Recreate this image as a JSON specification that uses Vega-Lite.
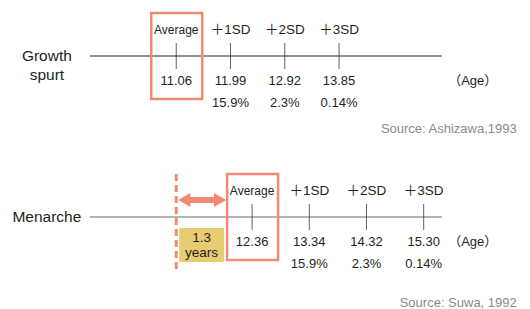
{
  "$schema": "https://vega.github.io/schema/vega-lite/v6.json",
  "width": 530,
  "height": 309,
  "autosize": {"type": "fit", "contains": "padding"},
  "padding": 0,
  "background": "white",
  "config": {
    "view": {"stroke": null},
    "text": {"font": "Liberation Sans, Noto Sans CJK JP", "color": "#231f20", "fontSize": 13}
  },
  "datasets": {
    "timelines": [
      {"timeline": "Growth spurt", "label": "Growth\nspurt", "from": 9.58, "to": 15.61, "source": "Source: Ashizawa,1993"},
      {"timeline": "Menarche", "label": "Menarche", "from": 9.58, "to": 15.61, "source": "Source: Suwa, 1992"}
    ],
    "points": [
      {"timeline": "Growth spurt", "sd": "Average", "age": 11.06, "pct": ""},
      {"timeline": "Growth spurt", "sd": "＋1SD", "age": 11.99, "pct": "15.9%"},
      {"timeline": "Growth spurt", "sd": "＋2SD", "age": 12.92, "pct": "2.3%"},
      {"timeline": "Growth spurt", "sd": "＋3SD", "age": 13.85, "pct": "0.14%"},
      {"timeline": "Menarche", "sd": "Average", "age": 12.36, "pct": ""},
      {"timeline": "Menarche", "sd": "＋1SD", "age": 13.34, "pct": "15.9%"},
      {"timeline": "Menarche", "sd": "＋2SD", "age": 14.32, "pct": "2.3%"},
      {"timeline": "Menarche", "sd": "＋3SD", "age": 15.30, "pct": "0.14%"}
    ],
    "gap": [
      {"timeline": "Menarche", "from": 11.06, "to": 12.36, "label": "1.3\nyears"}
    ]
  },
  "layer": [
    {
      "data": {"name": "timelines"},
      "mark": {"type": "rule", "strokeWidth": 1.2},
      "encoding": {
        "x": {"field": "from", "type": "quantitative", "scale": {"domain": [8.04, 17.122], "nice": false, "zero": false}, "axis": null},
        "x2": {"field": "to"},
        "y": {"field": "timeline", "type": "nominal", "scale": {"type": "point", "domain": ["Growth spurt", "Menarche"], "range": [56, 217], "padding": 0}, "axis": null},
        "color": {"field": "timeline", "type": "nominal", "scale": {"domain": ["Growth spurt", "Menarche"], "range": ["#2b2220", "#6b6b6b"]}, "legend": null}
      }
    },
    {
      "data": {"name": "points"},
      "mark": {"type": "tick", "size": 26, "thickness": 1, "color": "#231f20"},
      "encoding": {
        "x": {"field": "age", "type": "quantitative", "scale": {"domain": [8.04, 17.122], "nice": false, "zero": false}, "axis": null},
        "y": {"field": "timeline", "type": "nominal", "scale": {"type": "point", "domain": ["Growth spurt", "Menarche"], "range": [56, 217], "padding": 0}, "axis": null}
      }
    },
    {
      "data": {"name": "points"},
      "transform": [{"filter": "datum.sd === 'Average'"}],
      "mark": {"type": "rect", "fill": null, "filled": false, "stroke": "#f08a72", "strokeWidth": 2.5, "xOffset": -25, "x2Offset": 26, "yOffset": -43, "y2Offset": 43},
      "encoding": {
        "x": {"field": "age", "type": "quantitative", "scale": {"domain": [8.04, 17.122], "nice": false, "zero": false}, "axis": null},
        "x2": {"field": "age"},
        "y": {"field": "timeline", "type": "nominal", "scale": {"type": "point", "domain": ["Growth spurt", "Menarche"], "range": [56, 217], "padding": 0}, "axis": null},
        "y2": {"field": "timeline"}
      }
    },
    {
      "data": {"name": "points"},
      "transform": [{"filter": "datum.sd === 'Average'"}],
      "mark": {"type": "text", "font": "Liberation Sans Narrow, Liberation Sans", "fontSize": 12, "dy": -26},
      "encoding": {
        "x": {"field": "age", "type": "quantitative", "scale": {"domain": [8.04, 17.122], "nice": false, "zero": false}, "axis": null},
        "y": {"field": "timeline", "type": "nominal", "scale": {"type": "point", "domain": ["Growth spurt", "Menarche"], "range": [56, 217], "padding": 0}, "axis": null},
        "text": {"field": "sd"}
      }
    },
    {
      "data": {"name": "points"},
      "transform": [{"filter": "datum.sd !== 'Average'"}],
      "mark": {"type": "text", "dy": -26, "fontSize": 13.5},
      "encoding": {
        "x": {"field": "age", "type": "quantitative", "scale": {"domain": [8.04, 17.122], "nice": false, "zero": false}, "axis": null},
        "y": {"field": "timeline", "type": "nominal", "scale": {"type": "point", "domain": ["Growth spurt", "Menarche"], "range": [56, 217], "padding": 0}, "axis": null},
        "text": {"field": "sd"}
      }
    },
    {
      "data": {"name": "points"},
      "mark": {"type": "text", "dy": 25},
      "encoding": {
        "x": {"field": "age", "type": "quantitative", "scale": {"domain": [8.04, 17.122], "nice": false, "zero": false}, "axis": null},
        "y": {"field": "timeline", "type": "nominal", "scale": {"type": "point", "domain": ["Growth spurt", "Menarche"], "range": [56, 217], "padding": 0}, "axis": null},
        "text": {"field": "age", "type": "quantitative", "format": ".2f"}
      }
    },
    {
      "data": {"name": "points"},
      "mark": {"type": "text", "dy": 47},
      "encoding": {
        "x": {"field": "age", "type": "quantitative", "scale": {"domain": [8.04, 17.122], "nice": false, "zero": false}, "axis": null},
        "y": {"field": "timeline", "type": "nominal", "scale": {"type": "point", "domain": ["Growth spurt", "Menarche"], "range": [56, 217], "padding": 0}, "axis": null},
        "text": {"field": "pct"}
      }
    },
    {
      "data": {"name": "timelines"},
      "mark": {"type": "text", "dx": 31, "dy": 25},
      "encoding": {
        "x": {"field": "to", "type": "quantitative", "scale": {"domain": [8.04, 17.122], "nice": false, "zero": false}, "axis": null},
        "y": {"field": "timeline", "type": "nominal", "scale": {"type": "point", "domain": ["Growth spurt", "Menarche"], "range": [56, 217], "padding": 0}, "axis": null},
        "text": {"value": "（Age）"}
      }
    },
    {
      "data": {"name": "timelines"},
      "mark": {"type": "text", "fontSize": 15.5, "dx": -43, "dy": 0, "lineBreak": "\n", "lineHeight": 19},
      "encoding": {
        "x": {"field": "from", "type": "quantitative", "scale": {"domain": [8.04, 17.122], "nice": false, "zero": false}, "axis": null},
        "y": {"field": "timeline", "type": "nominal", "scale": {"type": "point", "domain": ["Growth spurt", "Menarche"], "range": [56, 217], "padding": 0}, "axis": null},
        "text": {"field": "label"}
      }
    },
    {
      "data": {"name": "timelines"},
      "transform": [{"filter": "datum.timeline === 'Growth spurt'"}],
      "mark": {"type": "text", "align": "right", "dx": 75, "dy": 73, "color": "#8a8a8a"},
      "encoding": {
        "x": {"field": "to", "type": "quantitative", "scale": {"domain": [8.04, 17.122], "nice": false, "zero": false}, "axis": null},
        "y": {"field": "timeline", "type": "nominal", "scale": {"type": "point", "domain": ["Growth spurt", "Menarche"], "range": [56, 217], "padding": 0}, "axis": null},
        "text": {"field": "source"}
      }
    },
    {
      "data": {"name": "timelines"},
      "transform": [{"filter": "datum.timeline === 'Menarche'"}],
      "mark": {"type": "text", "align": "right", "dx": 75, "dy": 86, "color": "#8a8a8a"},
      "encoding": {
        "x": {"field": "to", "type": "quantitative", "scale": {"domain": [8.04, 17.122], "nice": false, "zero": false}, "axis": null},
        "y": {"field": "timeline", "type": "nominal", "scale": {"type": "point", "domain": ["Growth spurt", "Menarche"], "range": [56, 217], "padding": 0}, "axis": null},
        "text": {"field": "source"}
      }
    },
    {
      "data": {"name": "gap"},
      "mark": {"type": "rule", "color": "#f08a72", "strokeWidth": 3, "strokeDash": [7, 4], "yOffset": -43, "y2Offset": 55},
      "encoding": {
        "x": {"field": "from", "type": "quantitative", "scale": {"domain": [8.04, 17.122], "nice": false, "zero": false}, "axis": null},
        "y": {"field": "timeline", "type": "nominal", "scale": {"type": "point", "domain": ["Growth spurt", "Menarche"], "range": [56, 217], "padding": 0}, "axis": null},
        "y2": {"field": "timeline"}
      }
    },
    {
      "data": {"name": "gap"},
      "mark": {"type": "rule", "color": "#f08a72", "strokeWidth": 6, "xOffset": 8, "x2Offset": -32, "yOffset": -17},
      "encoding": {
        "x": {"field": "from", "type": "quantitative", "scale": {"domain": [8.04, 17.122], "nice": false, "zero": false}, "axis": null},
        "x2": {"field": "to"},
        "y": {"field": "timeline", "type": "nominal", "scale": {"type": "point", "domain": ["Growth spurt", "Menarche"], "range": [56, 217], "padding": 0}, "axis": null}
      }
    },
    {
      "data": {"name": "gap"},
      "mark": {"type": "point", "shape": "triangle-left", "filled": true, "opacity": 1, "size": 196, "color": "#f08a72", "strokeWidth": 0, "xOffset": 8, "yOffset": -17},
      "encoding": {
        "x": {"field": "from", "type": "quantitative", "scale": {"domain": [8.04, 17.122], "nice": false, "zero": false}, "axis": null},
        "y": {"field": "timeline", "type": "nominal", "scale": {"type": "point", "domain": ["Growth spurt", "Menarche"], "range": [56, 217], "padding": 0}, "axis": null}
      }
    },
    {
      "data": {"name": "gap"},
      "mark": {"type": "point", "shape": "triangle-right", "filled": true, "opacity": 1, "size": 196, "color": "#f08a72", "strokeWidth": 0, "xOffset": -32, "yOffset": -17},
      "encoding": {
        "x": {"field": "to", "type": "quantitative", "scale": {"domain": [8.04, 17.122], "nice": false, "zero": false}, "axis": null},
        "y": {"field": "timeline", "type": "nominal", "scale": {"type": "point", "domain": ["Growth spurt", "Menarche"], "range": [56, 217], "padding": 0}, "axis": null}
      }
    },
    {
      "data": {"name": "gap"},
      "mark": {"type": "rect", "color": "#e8cc72", "xOffset": 3, "x2Offset": -28, "yOffset": 11, "y2Offset": 45},
      "encoding": {
        "x": {"field": "from", "type": "quantitative", "scale": {"domain": [8.04, 17.122], "nice": false, "zero": false}, "axis": null},
        "x2": {"field": "to"},
        "y": {"field": "timeline", "type": "nominal", "scale": {"type": "point", "domain": ["Growth spurt", "Menarche"], "range": [56, 217], "padding": 0}, "axis": null},
        "y2": {"field": "timeline"}
      }
    },
    {
      "data": {"name": "gap"},
      "mark": {"type": "text", "fontSize": 13.5, "dx": -50.5, "dy": 20.5, "lineBreak": "\n", "lineHeight": 15},
      "encoding": {
        "x": {"field": "to", "type": "quantitative", "scale": {"domain": [8.04, 17.122], "nice": false, "zero": false}, "axis": null},
        "y": {"field": "timeline", "type": "nominal", "scale": {"type": "point", "domain": ["Growth spurt", "Menarche"], "range": [56, 217], "padding": 0}, "axis": null},
        "text": {"field": "label"}
      }
    }
  ]
}
